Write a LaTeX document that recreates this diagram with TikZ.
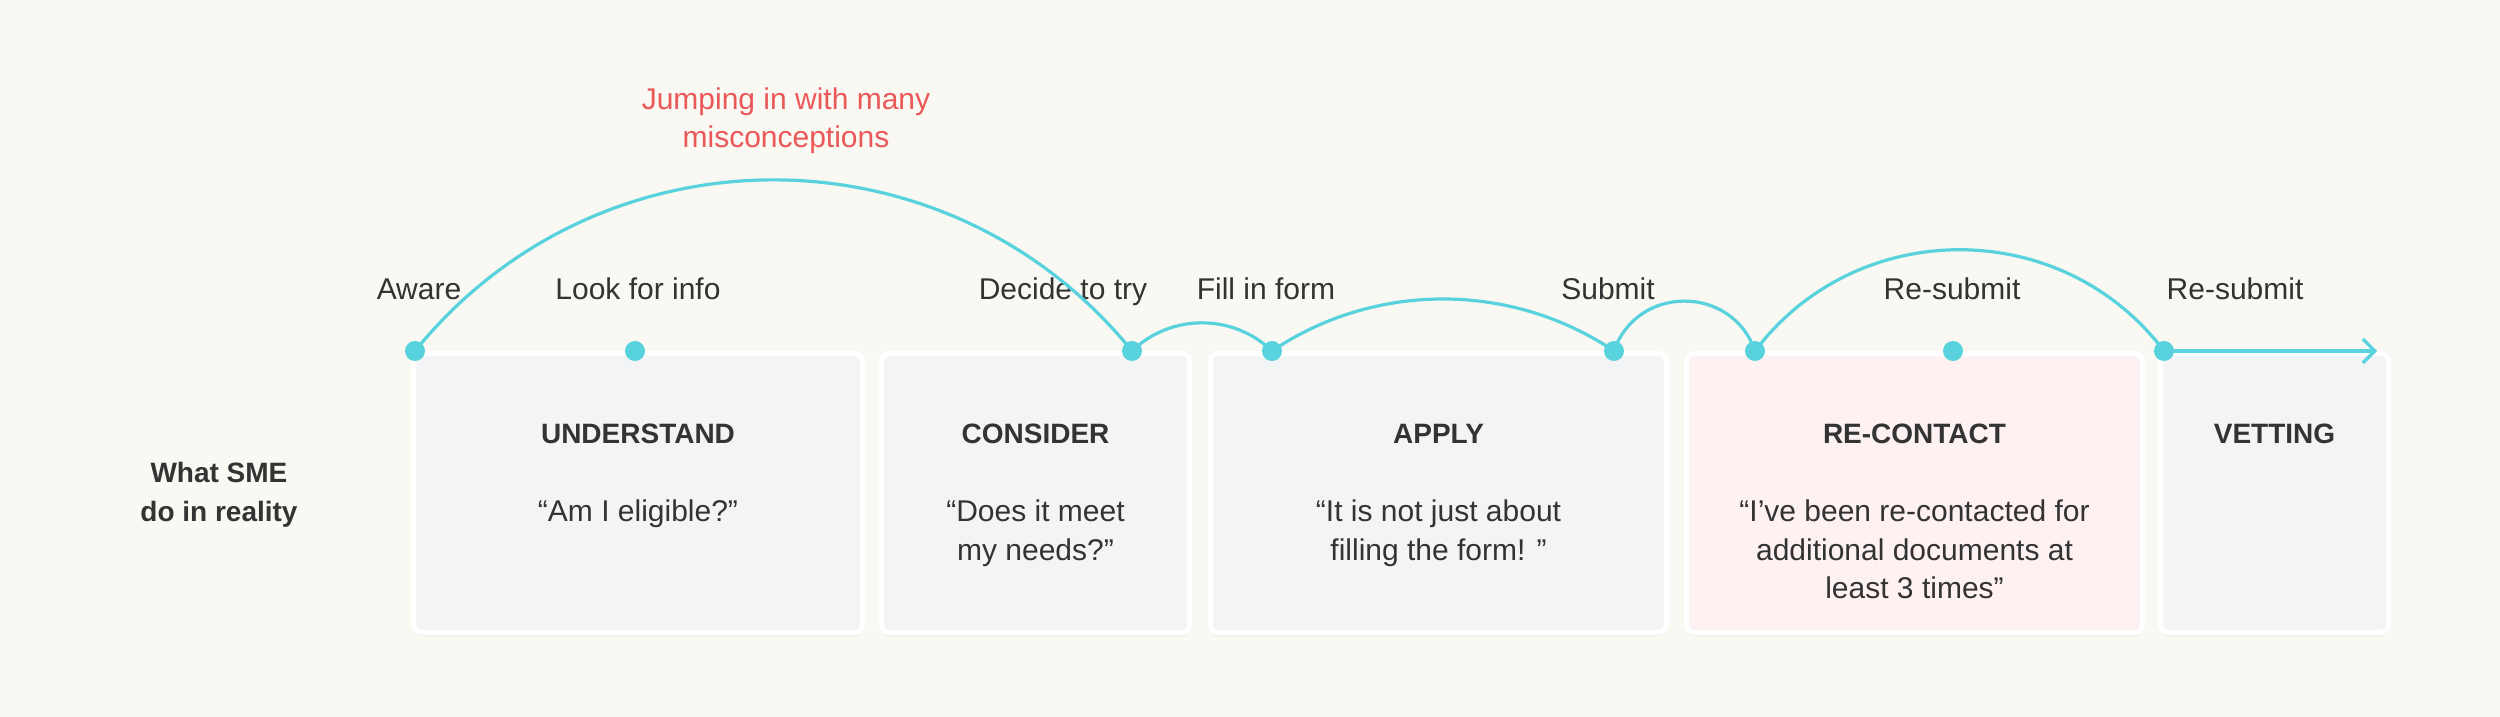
\documentclass[tikz,border=0pt]{standalone}
\usepackage{fontspec}
\setmainfont{Liberation Sans}
\usetikzlibrary{arrows.meta,shadows}
\definecolor{paper}{RGB}{249,248,243}
\definecolor{cardgray}{RGB}{243,244,246}
\definecolor{cardpink}{RGB}{253,241,241}
\definecolor{flowcyan}{RGB}{88,210,220}
\definecolor{noteRed}{RGB}{234,88,88}
\definecolor{ink}{RGB}{51,51,51}
\tikzset{
  card/.style={draw=white,line width=2.5pt,rounded corners=4pt,fill=cardgray,
    minimum height=139.5pt,inner sep=0pt,
    drop shadow={opacity=0.06,shadow xshift=0pt,shadow yshift=-2pt}},
  stage/.style={anchor=base,font=\fontsize{14}{19.5}\selectfont\bfseries,text=ink},
  saying/.style={anchor=base,align=center,font=\fontsize{15}{19.25}\selectfont,text=ink},
  steplabel/.style={anchor=base,font=\fontsize{15}{18}\selectfont,text=ink},
  flow/.style={draw=flowcyan,line width=1.6pt},
}
\begin{document}
\begin{tikzpicture}[x=0.5pt,y=0.5pt]
  \fill[paper] (0,0) rectangle (2500,717);
  \useasboundingbox (0,0) rectangle (2500,717);
  % stage cards
  \node[card,minimum width=224.5pt] (understand) at (638,224) {};
  \node[card,minimum width=154pt] (consider) at (1035.5,224) {};
  \node[card,minimum width=228pt] (apply) at (1438.5,224) {};
  \node[card,minimum width=228pt,fill=cardpink] (recontact) at (1914.5,224) {};
  \node[card,minimum width=114pt] (vetting) at (2274.5,224) {};
  \node[stage] (understand title) at (638,273) {UNDERSTAND};
  \node[stage] (consider title) at (1035.5,273) {CONSIDER};
  \node[stage] (apply title) at (1438.5,273) {APPLY};
  \node[stage] (recontact title) at (1914.5,273) {RE-CONTACT};
  \node[stage] (vetting title) at (2274.5,273) {VETTING};
  % base of a wrapped text is its last line
  \node[saying] (understand quote) at (638,195) {“Am I eligible?”};
  \node[saying] (consider quote) at (1035.5,156.5) {“Does it meet\\my needs?”};
  \node[saying] (apply quote) at (1438.5,156.5) {“It is not just about\\filling the form! ”};
  \node[saying] (recontact quote) at (1914.5,118) {“I’ve been re-contacted for\\additional documents at\\least 3 times”};
  \node[stage,align=center] (reality) at (219,195) {What SME\\do in reality};
  \node[saying,text=noteRed] (jump note) at (786,569) {Jumping in with many\\misconceptions};
  % journey points
  \coordinate (aware) at (415,366);
  \coordinate (lookinfo) at (635,366);
  \coordinate (decide) at (1132,366);
  \coordinate (fillform) at (1272,366);
  \coordinate (submit) at (1614,366);
  \coordinate (recontacted) at (1755,366);
  \coordinate (resubmit) at (1953,366);
  \coordinate (resubmitagain) at (2164,366);
  \coordinate (vetend) at (2377,366);
  \node[steplabel] (aware label) at (419,417) {Aware};
  \node[steplabel] (lookinfo label) at (638,417) {Look for info};
  \node[steplabel] (decide label) at (1063,417) {Decide to try};
  \node[steplabel] (fillform label) at (1266,417) {Fill in form};
  \node[steplabel] (submit label) at (1608,417) {Submit};
  \node[steplabel] (resubmit label) at (1952,417) {Re-submit};
  \node[steplabel] (resubmitagain label) at (2235,417) {Re-submit};
  % jumps
  \draw[flow] (aware) to[out=51,in=129,looseness=1.05] (decide);
  \draw[flow] (decide) to[out=44,in=136,looseness=0.99] (fillform);
  \draw[flow] (fillform) to[out=34,in=146,looseness=0.93] (submit);
  \draw[flow] (submit) to[out=71,in=109,looseness=1.28] (recontacted);
  \draw[flow] (recontacted) to[out=53,in=127,looseness=1.06] (resubmitagain);
  \draw[flow,-{Straight Barb[length=6pt,width=12pt]}] (resubmitagain) -- (vetend);
  \foreach \p in {aware,lookinfo,decide,fillform,submit,recontacted,resubmit,resubmitagain}
    \fill[flowcyan] (\p) circle[radius=5pt];
\end{tikzpicture}
\end{document}
